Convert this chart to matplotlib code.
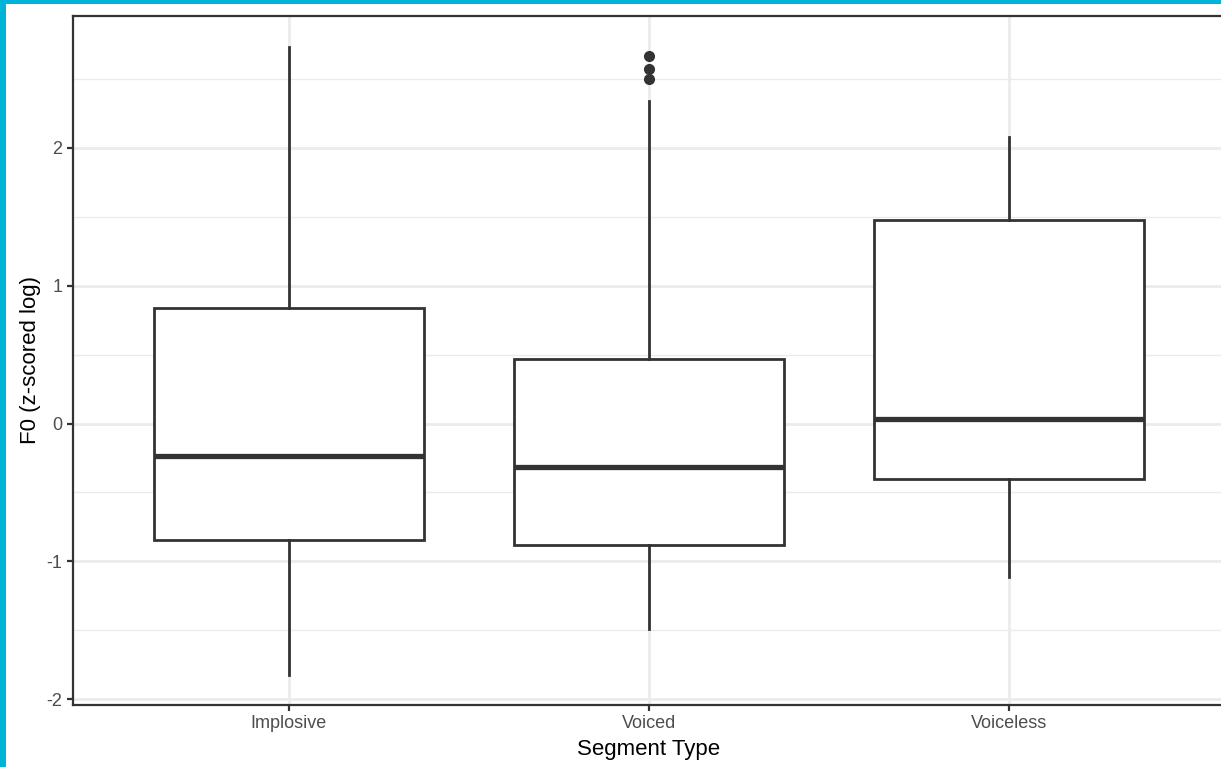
import matplotlib
matplotlib.use("Agg")
import matplotlib.pyplot as plt
from matplotlib.patches import Rectangle
import numpy as np

plt.rcParams['font.family'] = ['Liberation Sans', 'DejaVu Sans']

categories = ["Implosive", "Voiced", "Voiceless"]
whisker_low = [-1.826, -1.492, -1.114]
q1 = [-0.846, -0.882, -0.403]
median = [-0.236, -0.316, 0.033]
q3 = [0.838, 0.468, 1.477]
whisker_high = [2.733, 2.341, 2.080]
outliers = [[], [2.67, 2.57, 2.50], []]

y_ticks = [-2, -1, 0, 1, 2]
y_minor = [-1.5, -0.5, 0.5, 1.5, 2.5]

dark = '#333333'
grid_c = '#EBEBEB'

fig = plt.figure(figsize=(12.21, 7.67), dpi=100)
ax = fig.add_axes([73/1221, 1-705/767, (1225-73)/1221, (705-16)/767])

stats = []
for i, c in enumerate(categories):
    stats.append(dict(label=c, whislo=whisker_low[i], q1=q1[i], med=median[i],
                      q3=q3[i], whishi=whisker_high[i], fliers=outliers[i]))

positions = np.arange(1, len(categories) + 1)
ax.bxp(stats, positions=positions, widths=0.75, showcaps=False, patch_artist=True,
       boxprops=dict(facecolor='white', edgecolor=dark, linewidth=2.0),
       whiskerprops=dict(color=dark, linewidth=2.0),
       medianprops=dict(color=dark, linewidth=3.8, solid_capstyle='butt'),
       flierprops=dict(marker='o', markerfacecolor=dark, markeredgecolor=dark,
                       markersize=7.0),
       zorder=3)

ax.set_xlim(0.4, 3.6)
ax.set_ylim((423.5 - 705) / 137.75, (423.5 - 16) / 137.75)

ax.set_yticks(y_ticks)
ax.set_yticklabels([str(t) for t in y_ticks])
ax.set_yticks(y_minor, minor=True)
ax.set_xticks(positions)
ax.set_xticklabels(categories)

ax.grid(True, which='major', axis='both', color=grid_c, linewidth=2.0, zorder=0)
ax.grid(True, which='minor', axis='y', color=grid_c, linewidth=1.0, zorder=0)
ax.set_axisbelow(True)

ax.tick_params(axis='both', which='major', length=4.5, width=1.6, color=dark,
               labelcolor='#4D4D4D', labelsize=13, pad=3)
ax.tick_params(axis='both', which='minor', length=0)

for s in ax.spines.values():
    s.set_color(dark)
    s.set_linewidth(1.6)

ax.set_xlabel("Segment Type", fontsize=16, color='black', labelpad=5)
ax.set_ylabel("F0 (z-scored log)", fontsize=16, color='black', labelpad=4)

# cyan frame strips on left and top
fig.patches.append(Rectangle((0, 0), 6/1221, 1, transform=fig.transFigure,
                             facecolor='#00B4D8', edgecolor='none', zorder=10))
fig.patches.append(Rectangle((0, 1-4/767), 1, 4/767, transform=fig.transFigure,
                             facecolor='#00B4D8', edgecolor='none', zorder=10))

fig.savefig("out.png", dpi=100)
